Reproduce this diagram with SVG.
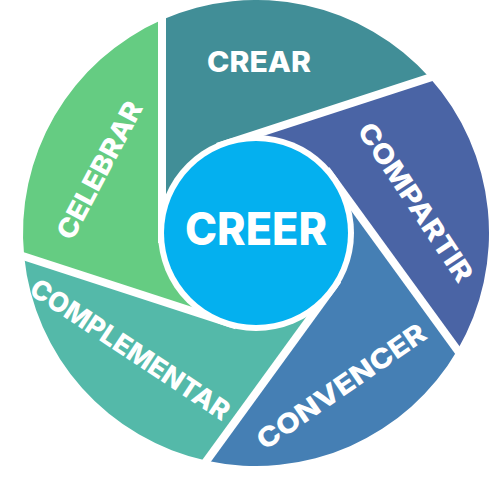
<svg xmlns="http://www.w3.org/2000/svg" width="500" height="490" viewBox="0 0 500 490">
<style>
.lbl{font-family:Inter,"Open Sans","Liberation Sans",sans-serif;font-weight:800;fill:#fff;text-anchor:middle}
.gap{stroke:#fff;stroke-width:8;fill:none}
</style>
<rect width="500" height="490" fill="#fff"/>
<g id="crear">
<path d="M162 19.8 A233 233 0 0 1 429.72 77.72 L226.95 143.6 L256 233 L162 233 Z" fill="#418E97"/>
<text class="lbl" x="259" y="72" font-size="28" textLength="104" lengthAdjust="spacingAndGlyphs">CREAR</text>
</g>
<g id="compartir">
<path d="M429.72 77.72 A233 233 0 0 1 457.37 350.23 L332.05 177.75 L256 233 L226.95 143.6 Z" fill="#4A64A5"/>
<text class="lbl" font-size="27" textLength="185" lengthAdjust="spacingAndGlyphs" transform="translate(416 202) rotate(56.5)" y="10">COMPARTIR</text>
</g>
<g id="convencer">
<path d="M457.37 350.23 A233 233 0 0 1 206.73 460.73 L332.05 288.25 L256 233 L332.05 177.75 Z" fill="#457FB4"/>
<text class="lbl" font-size="27" textLength="199" lengthAdjust="spacingAndGlyphs" transform="translate(341 386) rotate(-34.6)" y="10">CONVENCER</text>
</g>
<g id="complementar">
<path d="M206.73 460.73 A233 233 0 0 1 24.18 256.52 L226.95 322.4 L256 233 L332.05 288.25 Z" fill="#54B9A9"/>
<text class="lbl" font-size="27" textLength="233" lengthAdjust="spacingAndGlyphs" transform="translate(130.5 349) rotate(33.4)" y="10">COMPLEMENTAR</text>
</g>
<g id="celebrar">
<path d="M24.18 256.52 A233 233 0 0 1 162 19.8 L162 233 L256 233 L226.95 322.4 Z" fill="#65CC82"/>
<text class="lbl" font-size="27" textLength="152" lengthAdjust="spacingAndGlyphs" transform="translate(99 170) rotate(-62)" y="10">CELEBRAR</text>
</g>
<g id="connectors">
<line class="gap" x1="162" y1="243" x2="162" y2="-10"/>
<line class="gap" x1="217.4" y1="146.7" x2="455.2" y2="69.4"/>
<line class="gap" x1="326.2" y1="169.7" x2="473.2" y2="371.9"/>
<line class="gap" x1="337.9" y1="280.2" x2="190.9" y2="482.4"/>
<line class="gap" x1="236.5" y1="325.5" x2="-1.3" y2="248.2"/>
</g>
<g id="creer">
<circle cx="256" cy="233" r="98" fill="#fff"/>
<circle cx="256" cy="233" r="92" fill="#04B0EF"/>
<text class="lbl" x="256" y="245" font-size="45" textLength="142" lengthAdjust="spacingAndGlyphs">CREER</text>
</g>
</svg>
